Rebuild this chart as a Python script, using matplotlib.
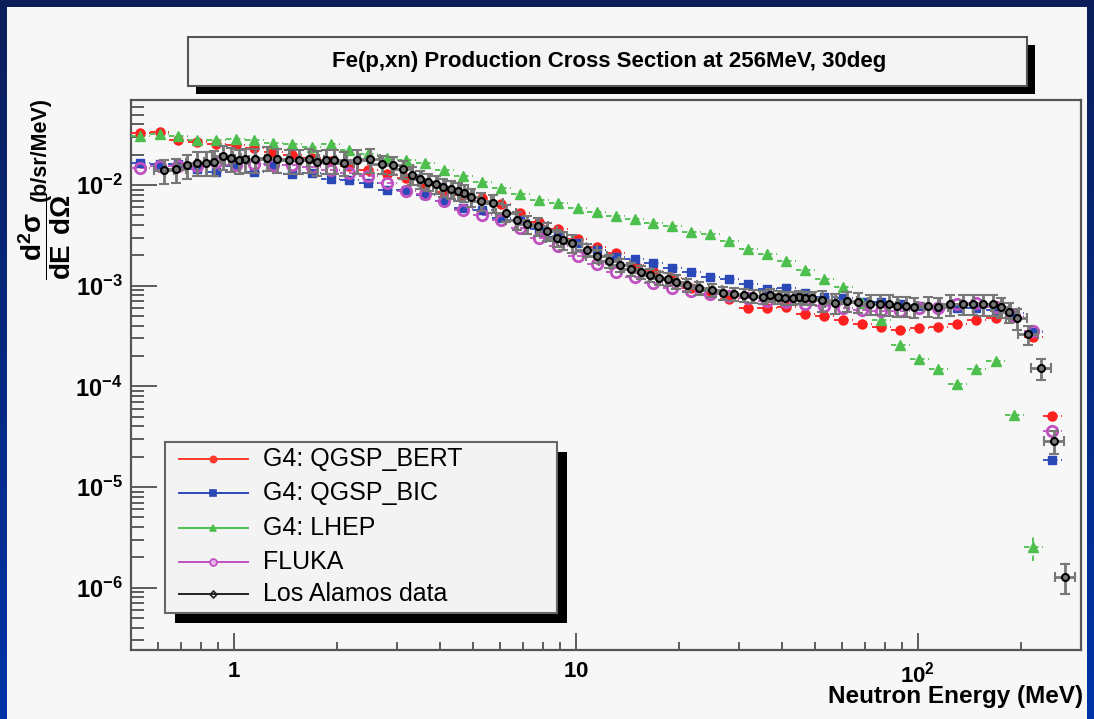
import matplotlib.pyplot as plt
import numpy as np
from matplotlib.patches import Rectangle
from matplotlib.lines import Line2D
from matplotlib.colors import LinearSegmentedColormap
from matplotlib.ticker import FuncFormatter, NullFormatter, LogLocator

plt.rcParams['font.family'] = ['Liberation Sans', 'DejaVu Sans']
plt.rcParams['mathtext.fontset'] = 'custom'
plt.rcParams['mathtext.rm'] = 'Liberation Sans'
plt.rcParams['mathtext.it'] = 'Liberation Sans:italic'
plt.rcParams['mathtext.bf'] = 'Liberation Sans:bold'

title = "Fe(p,xn) Production Cross Section at 256MeV, 30deg"
xlabel = "Neutron Energy (MeV)"
ylabel_frac = r"$\mathbf{\dfrac{d^{2}\sigma}{dE\;\,d\Omega}}$"
ylabel_unit = "(b/sr/MeV)"

# simulation histograms: 50 log bins between 0.5 and 300 MeV (centres)
sim_energy = [0.533, 0.606, 0.688, 0.782, 0.889, 1.011, 1.148, 1.305, 1.483, 1.686,
              1.916, 2.177, 2.474, 2.812, 3.195, 3.631, 4.127, 4.690, 5.330, 6.057,
              6.884, 7.823, 8.891, 10.11, 11.49, 13.06, 14.84, 16.86, 19.16, 21.78,
              24.75, 28.13, 31.97, 36.33, 41.29, 46.92, 53.32, 60.60, 68.87, 78.26,
              88.94, 101.1, 114.9, 130.6, 148.4, 168.7, 191.7, 217.8, 247.6]
bin_half_dex = 0.0278

qgsp_bert = [0.0328, 0.0338, 0.0278, 0.0267, 0.0255, 0.0252, 0.0235, 0.0214, 0.0199, 0.0185,
             0.0173, 0.0154, 0.0141, 0.0130, 0.0118, 0.0100, 0.00852, 0.00796, 0.00748, 0.00648,
             0.00531, 0.00432, 0.00363, 0.00293, 0.00242, 0.00211, 0.00161, 0.00140, 0.00118, 0.000942,
             0.000886, 0.000738, 0.000601, 0.000605, 0.000621, 0.000527, 0.000498, 0.000460, 0.000414, 0.000385,
             0.000366, 0.000383, 0.000393, 0.000417, 0.000453, 0.000480, 0.000489, 0.000309, 5.08e-5]

qgsp_bic = [0.01665, 0.01617, 0.01606, 0.01442, 0.01346, 0.01543, 0.01355, 0.01580, 0.01286, 0.01325,
            0.01139, 0.01121, 0.01059, 0.00898, 0.00898, 0.00796, 0.00694, 0.00587, 0.00561, 0.00467,
            0.00446, 0.00363, 0.00305, 0.00267, 0.00225, 0.00195, 0.00184, 0.00170, 0.00150, 0.00137,
            0.00123, 0.00116, 0.00103, 0.000927, 0.000949, 0.000852, 0.000767, 0.000750, 0.000689, 0.000689,
            0.000658, 0.000629, 0.000614, 0.000601, 0.000594, 0.000574, 0.000536, 0.000347, 1.85e-5]

lhep = [0.0307, 0.0319, 0.0307, 0.0283, 0.0283, 0.0290, 0.0282, 0.0263, 0.0254, 0.0237,
        0.0255, 0.0221, 0.0202, 0.0187, 0.0178, 0.0164, 0.0140, 0.0123, 0.0107, 0.00934,
        0.00808, 0.00705, 0.00658, 0.00587, 0.00543, 0.00498, 0.00456, 0.00422, 0.00392, 0.00344,
        0.00324, 0.00278, 0.00230, 0.00205, 0.00176, 0.00142, 0.00116, 0.000960, 0.000673, 0.000451,
        0.000255, 0.000189, 0.000149, 0.000105, 0.000147, 0.000179, 5.14e-5, 2.54e-6]
lhep_err = [0.0] * 47 + [7e-7]

fluka = [0.01486, 0.01562, 0.01543, 0.01562, 0.01692, 0.01580, 0.01627, 0.01580, 0.01569, 0.01510,
         0.01400, 0.01325, 0.01220, 0.01054, 0.00872, 0.00808, 0.00694, 0.00565, 0.00504, 0.00446,
         0.00377, 0.00296, 0.00248, 0.00197, 0.00165, 0.00137, 0.00122, 0.00107, 0.000942, 0.000886,
         0.000821, 0.000790, 0.000750, 0.000705, 0.000681, 0.000654, 0.000629, 0.000596, 0.000570, 0.000561,
         0.000561, 0.000596, 0.000607, 0.000654, 0.000678, 0.000614, 0.000500, 0.000355, 3.6e-5]

# Los Alamos measurement
la_energy = [0.625, 0.675, 0.727, 0.778, 0.828, 0.876, 0.927, 0.978, 1.034, 1.077,
             1.152, 1.246, 1.333, 1.451, 1.552, 1.657, 1.752, 1.858, 1.961, 2.097,
             2.294, 2.498, 2.703, 2.911, 3.113, 3.308, 3.499, 3.700, 3.896, 4.093,
             4.310, 4.528, 4.715, 4.922, 5.276, 5.731, 6.242, 6.709, 7.175, 7.757,
             8.245, 8.782, 9.182, 9.714, 10.75, 11.50, 12.49, 13.45, 14.48, 15.49,
             16.46, 17.52, 18.54, 19.61, 21.07, 22.94, 24.94, 26.85, 29.04, 30.99,
             33.00, 35.15, 36.92, 39.04, 40.84, 43.01, 44.97, 46.73, 48.89, 52.29,
             57.19, 62.0, 66.9, 72.4, 77.4, 82.4, 87.0, 92.2, 97.3, 107.2,
             114.7, 124.1, 135.1, 145.1, 155.2, 165.4, 174.9, 184.9, 194.4, 209.7,
             228.8, 249.8, 269.1]
la_xsec = [0.0140, 0.0143, 0.0158, 0.0167, 0.0167, 0.0170, 0.0194, 0.0184, 0.0176, 0.0180,
           0.0180, 0.0187, 0.0180, 0.0176, 0.0176, 0.0180, 0.0170, 0.0176, 0.0176, 0.0167,
           0.0176, 0.0180, 0.0161, 0.0157, 0.0143, 0.0126, 0.0114, 0.0108, 0.0102, 0.00955,
           0.00906, 0.00872, 0.00839, 0.00760, 0.00694, 0.00658, 0.00531, 0.00446, 0.00407, 0.00392,
           0.00349, 0.00300, 0.00282, 0.00264, 0.00225, 0.00197, 0.00176, 0.00161, 0.00146, 0.00138,
           0.00128, 0.00120, 0.00116, 0.00110, 0.00101, 0.000942, 0.000900, 0.000852, 0.000821, 0.000808,
           0.000790, 0.000772, 0.000808, 0.000772, 0.000760, 0.000750, 0.000772, 0.000760, 0.000750, 0.000716,
           0.000678, 0.000705, 0.000689, 0.000663, 0.000663, 0.000654, 0.000629, 0.000629, 0.000614, 0.000629,
           0.000614, 0.000654, 0.000663, 0.000663, 0.000654, 0.000654, 0.000614, 0.000552, 0.000475, 0.000329,
           0.000151, 2.87e-5, 1.28e-6]
la_relerr = [0.27] * 22 + [0.20] * 22 + [0.15] * 25 + [0.23] * 20 + [0.22, 0.24, 0.26, 0.33]
la_half_dex = 0.03

W, H = 1094, 719


def fx(px):
    return px / W


def fy(py):
    return 1 - py / H


BG = '#f6f7f6'
fig = plt.figure(figsize=(W / 100, H / 100), dpi=100)
fig.patch.set_facecolor(BG)

# dark blue slide frame
navy = LinearSegmentedColormap.from_list('frame', ['#0b1e5a', '#0034a8'])
grad = np.linspace(0, 1, 256).reshape(-1, 1)
for x0 in (0, W - 7):
    bax = fig.add_axes([fx(x0), 0, 7 / W, 1])
    bax.imshow(grad, aspect='auto', cmap=navy)
    bax.set_axis_off()
fig.add_artist(Rectangle((0, fy(7)), 1, 7 / H, transform=fig.transFigure,
                         facecolor='#0b1e5a', edgecolor='none'))

ax = fig.add_axes([fx(131), fy(650), (1081 - 131) / W, (650 - 100) / H])
ax.set_facecolor(BG)
ax.set_xscale('log')
ax.set_yscale('log')
ax.set_xlim(0.5, 300)
ax.set_ylim(2.4e-7, 0.07)

sims = [
    ('G4: QGSP_BERT', qgsp_bert, None, '#ff2020', 'o', '#ff2020', 6.5),
    ('G4: QGSP_BIC', qgsp_bic, None, '#2a48b8', 's', '#2a48b8', 6.0),
    ('G4: LHEP', lhep, lhep_err, '#4cbf4c', '^', '#4cbf4c', 6.5),
    ('FLUKA', fluka, None, '#c050c0', 'o', 'none', 7.5),
]

lo_f = 1 - 10 ** -bin_half_dex
hi_f = 10 ** bin_half_dex - 1
for name, vals, err, col, mk, mfc, ms in sims:
    e = np.array(sim_energy[:len(vals)])
    eb = ax.errorbar(e, vals, xerr=[e * lo_f, e * hi_f], yerr=err, fmt=mk,
                     color=col, mfc=mfc, mec=col, ms=ms, mew=2.0 if mfc == 'none' else 1.0,
                     elinewidth=1.3, capsize=0, zorder=3)
    for c in eb[2]:
        c.set_linestyle((0, (3, 2)))

e = np.array(la_energy)
y = np.array(la_xsec)
ax.errorbar(e, y, xerr=[e * (1 - 10 ** -la_half_dex), e * (10 ** la_half_dex - 1)],
            yerr=y * np.array(la_relerr), fmt='o', ms=5, mfc='none', mec='black', mew=1.5,
            ecolor='#777777', elinewidth=2.0, capsize=3.8, capthick=2.0, zorder=4)

# axes styling
for s in ax.spines.values():
    s.set_color('#555555')
    s.set_linewidth(1.6)
ax.tick_params(which='both', direction='in', color='#505050', width=1.3,
               top=False, right=False)
ax.tick_params(axis='y', which='major', length=19, pad=6, labelsize=17)
ax.tick_params(axis='y', which='minor', length=9.5)
ax.tick_params(axis='x', which='major', length=12, pad=8, labelsize=16)
ax.tick_params(axis='x', which='minor', length=6)

ax.yaxis.set_major_locator(LogLocator(base=10, numticks=12))
ax.yaxis.set_minor_locator(LogLocator(base=10, subs=np.arange(2, 10), numticks=12))
ax.yaxis.set_minor_formatter(NullFormatter())
ax.yaxis.set_major_formatter(FuncFormatter(
    lambda v, p: r'$\mathbf{10^{%d}}$' % int(round(np.log10(v)))))

ax.xaxis.set_major_locator(LogLocator(base=10, numticks=6))
ax.xaxis.set_minor_locator(LogLocator(base=10, subs=np.arange(2, 10), numticks=12))
ax.xaxis.set_minor_formatter(NullFormatter())
xtick_text = {1: r'$\mathbf{1}$', 10: r'$\mathbf{10}$', 100: r'$\mathbf{10^{2}}$'}
ax.xaxis.set_major_formatter(FuncFormatter(
    lambda v, p: xtick_text.get(int(round(v)), '')))

# axis titles
fig.text(fx(1083), fy(696), xlabel, ha='right', va='center', fontsize=17.5,
         fontweight='bold')
fig.text(fx(40), fy(97), ylabel_unit, rotation=90, ha='center', va='top',
         fontsize=15.5, fontweight='bold')
fig.text(fx(45), fy(193), ylabel_frac, rotation=90, ha='center', va='top',
         fontsize=20)

# title box with shadow
fig.add_artist(Rectangle((fx(196), fy(94)), (1035 - 196) / W, (94 - 45) / H,
                         transform=fig.transFigure, facecolor='black', edgecolor='none'))
fig.add_artist(Rectangle((fx(188), fy(86)), (1027 - 188) / W, (86 - 37) / H,
                         transform=fig.transFigure, facecolor='#f4f4f4',
                         edgecolor='#555555', linewidth=1.5))
fig.text(fx(609), fy(62), title, ha='center', va='center', fontsize=16,
         fontweight='bold')

# legend box with shadow
fig.add_artist(Rectangle((fx(175), fy(623)), (567 - 175) / W, (623 - 452) / H,
                         transform=fig.transFigure, facecolor='black', edgecolor='none'))
fig.add_artist(Rectangle((fx(165), fy(613)), (557 - 165) / W, (613 - 442) / H,
                         transform=fig.transFigure, facecolor='#f3f3f3',
                         edgecolor='#666666', linewidth=1.5))

legend_rows = [
    ('G4: QGSP_BERT', '#ff3a2a', 'o', '#ff3a2a', 4.5),
    ('G4: QGSP_BIC', '#2a48b8', 's', '#2a48b8', 4.5),
    ('G4: LHEP', '#4cbf4c', '^', '#4cbf4c', 4.0),
    ('FLUKA', '#c050c0', 'o', '#e8b0e8', 5.0),
    ('Los Alamos data', '#222222', 'D', 'none', 3.5),
]
row_y = [459, 493, 528, 562, 594]
for (lab, col, mk, mfc, ms), ry in zip(legend_rows, row_y):
    fig.add_artist(Line2D([fx(179), fx(213), fx(248)], [fy(ry)] * 3,
                          transform=fig.transFigure, color=col, lw=1.4,
                          marker=mk, markevery=[1], ms=ms, mfc=mfc, mec=col, mew=1.2))
    fig.text(fx(263), fy(ry), lab, ha='left', va='center', fontsize=18, color='black')

fig.savefig('out.png', dpi=100, facecolor=fig.get_facecolor())
